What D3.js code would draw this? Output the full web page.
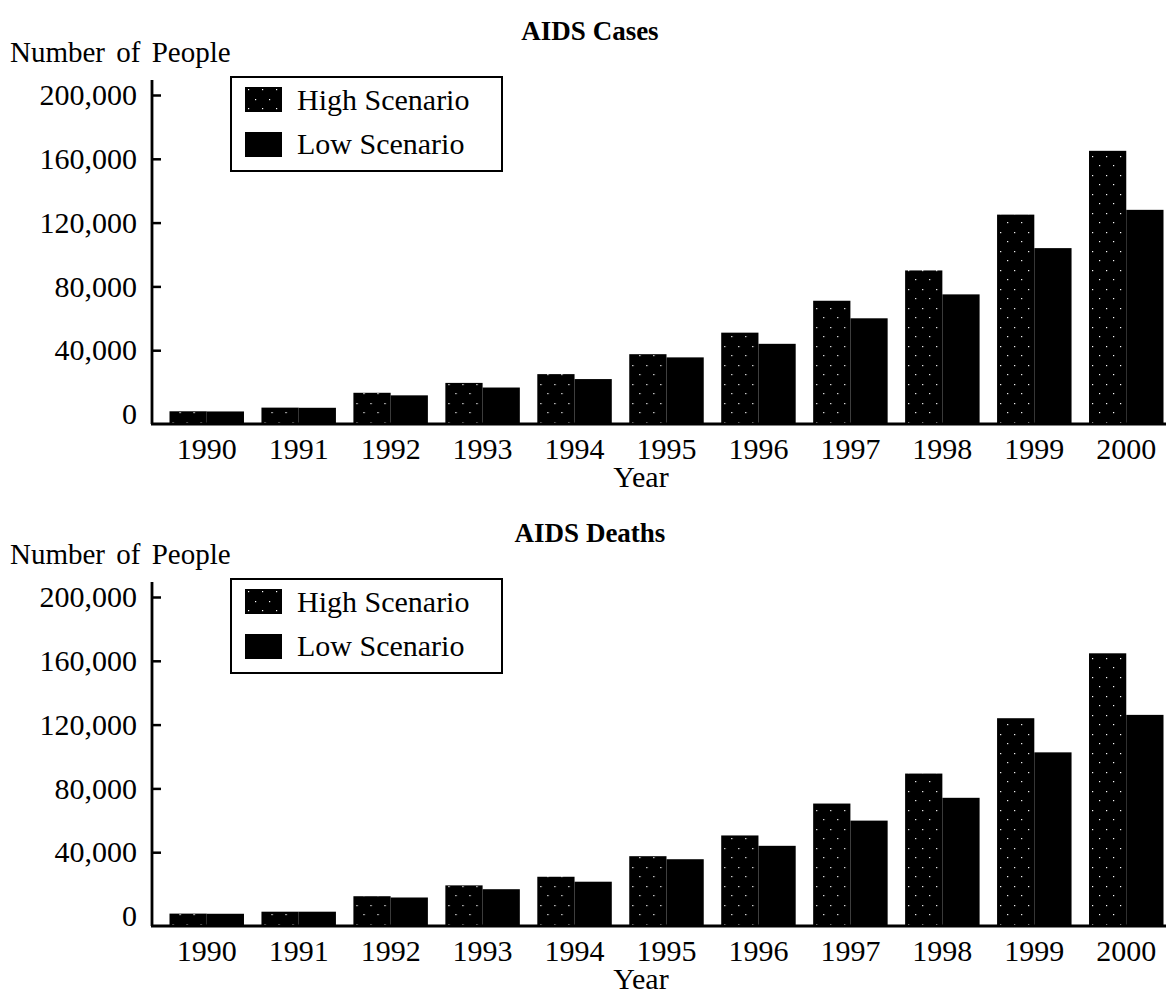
<!DOCTYPE html>
<html>
<head>
<meta charset="utf-8">
<script src="https://cdn.jsdelivr.net/npm/d3@7"></script>
<style>
  body { margin: 0; background: #fff; }
  svg { display: block; font-family: "Liberation Serif", "Times New Roman", serif; }
</style>
</head>
<body>
<div id="chart"></div>
<script>
// values
const years = ["1990", "1991", "1992", "1993", "1994", "1995", "1996", "1997", "1998", "1999", "2000"];
const casesHigh = [1700, 4000, 13300, 19500, 25000, 37500, 51000, 71000, 90000, 125000, 165000];
const casesLow = [1600, 3900, 11700, 16600, 21900, 35500, 44000, 60000, 75000, 104000, 128000];
const deathsHigh = [1500, 2700, 12400, 19200, 24600, 37500, 50500, 70500, 89300, 124000, 164700];
const deathsLow = [1400, 2700, 11600, 16800, 21500, 35600, 44000, 59800, 74100, 102600, 126100];
const yTicks = [0, 40000, 80000, 120000, 160000, 200000];
const seriesNames = ["High Scenario", "Low Scenario"];

const width = 1169, height = 994;

const svg = d3.select("#chart").append("svg")
    .attr("width", width)
    .attr("height", height);

// sparse stipple fill for the high scenario bars
let defs = svg.append("defs");
let pat = defs.append("pattern")
    .attr("id", "stipple")
    .attr("patternUnits", "userSpaceOnUse")
    .attr("width", 14)
    .attr("height", 19);
pat.append("rect").attr("width", 14).attr("height", 19).attr("fill", "#000");
[[3, 4], [10, 13]].forEach(p => {
    pat.append("rect").attr("x", p[0]).attr("y", p[1]).attr("width", 1.2).attr("height", 1.2).attr("fill", "#fff");
});

const fills = ["url(#stipple)", "#000"];

function drawPanel(top, title, high, low) {
    let g = svg.append("g").attr("transform", `translate(0, ${top})`);

    let x = d3.scaleBand()
        .domain(years)
        .range([169.5, 1163.5])
        .paddingInner(0.19)
        .paddingOuter(0);

    let xSub = d3.scaleBand()
        .domain(seriesNames)
        .range([0, x.bandwidth()]);

    let y = d3.scaleLinear()
        .domain([0, 200000])
        .range([414, 95]);

    let axisX = 152;
    let baseY = y(0) + 10;   // the x axis sits a little below zero in the original

    // title
    g.append("text")
        .attr("x", 590)
        .attr("y", 40)
        .attr("text-anchor", "middle")
        .attr("font-weight", "bold")
        .attr("font-size", 27)
        .text(title);

    g.append("text")
        .attr("x", 10)
        .attr("y", 62)
        .attr("font-size", 29)
        .attr("word-spacing", 4)
        .text("Number of People");

    // bars
    let rows = years.map((yr, i) => ({year: yr, values: [high[i], low[i]]}));

    let groups = g.selectAll(".year")
        .data(rows)
        .enter().append("g")
        .attr("class", "year")
        .attr("transform", d => `translate(${x(d.year)}, 0)`);

    groups.selectAll("rect")
        .data(d => d.values.map((v, k) => ({name: seriesNames[k], value: v, k: k})))
        .enter().append("rect")
        .attr("x", d => xSub(d.name))
        .attr("y", d => y(d.value))
        .attr("width", xSub.bandwidth())
        .attr("height", d => baseY - y(d.value))
        .attr("fill", d => fills[d.k]);

    // y axis
    let yAxis = d3.axisLeft(y)
        .tickValues(yTicks)
        .tickFormat(d3.format(","))
        .tickSizeInner(-9)
        .tickSizeOuter(0)
        .tickPadding(15);

    let ya = g.append("g")
        .attr("transform", `translate(${axisX}, 0)`)
        .call(yAxis);
    ya.select(".domain").remove();
    ya.selectAll(".tick line").attr("stroke", "#000").attr("stroke-width", 2.5);
    ya.selectAll(".tick text")
        .attr("font-family", "Liberation Serif")
        .attr("font-size", 30)
        .attr("fill", "#000");
    ya.selectAll(".tick").filter(d => d === 0).select("line").remove();

    g.append("line")
        .attr("x1", axisX).attr("x2", axisX)
        .attr("y1", y(200000) - 15).attr("y2", baseY)
        .attr("stroke", "#000").attr("stroke-width", 2.8);

    // x axis
    let xa = g.append("g")
        .attr("transform", `translate(0, ${baseY})`)
        .call(d3.axisBottom(x).tickSize(0).tickSizeOuter(0));
    xa.select(".domain").remove();
    xa.selectAll(".tick text")
        .attr("font-family", "Liberation Serif")
        .attr("font-size", 30)
        .attr("fill", "#000")
        .attr("dy", 0)
        .attr("y", 35);

    g.append("line")
        .attr("x1", axisX - 1).attr("x2", 1166)
        .attr("y1", baseY).attr("y2", baseY)
        .attr("stroke", "#000").attr("stroke-width", 2.8);

    g.append("text")
        .attr("x", 641)
        .attr("y", baseY + 63)
        .attr("text-anchor", "middle")
        .attr("font-size", 30)
        .text("Year");

    // legend
    let lg = g.append("g");
    lg.append("rect")
        .attr("x", 231).attr("y", 77)
        .attr("width", 271).attr("height", 94)
        .attr("fill", "#fff")
        .attr("stroke", "#000")
        .attr("stroke-width", 2);

    seriesNames.forEach((name, k) => {
        lg.append("rect")
            .attr("x", 245)
            .attr("y", 87 + k * 45)
            .attr("width", 37)
            .attr("height", 25)
            .attr("fill", fills[k]);
        lg.append("text")
            .attr("x", 297)
            .attr("y", 110 + k * 44)
            .attr("font-size", 30)
            .text(name);
    });
}

drawPanel(0, "AIDS Cases", casesHigh, casesLow);
drawPanel(502, "AIDS Deaths", deathsHigh, deathsLow);
</script>
</body>
</html>
